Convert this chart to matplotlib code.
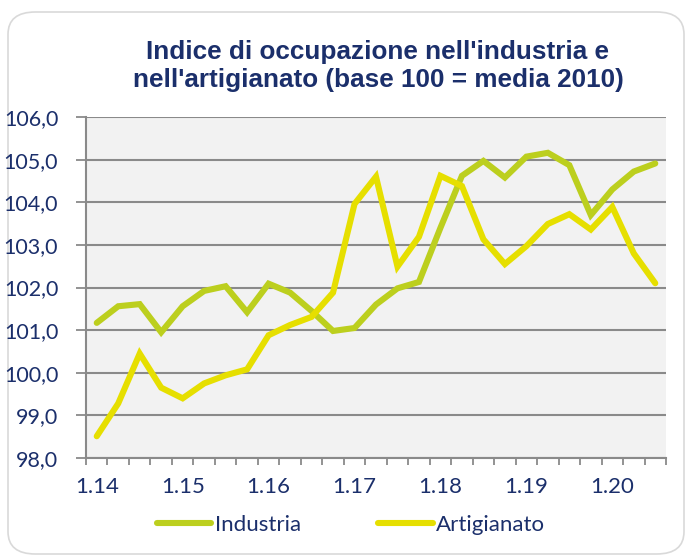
import matplotlib.pyplot as plt
from matplotlib.patches import FancyBboxPatch

# Quarterly index values (Q1 2014 .. Q3 2020), base 100 = 2010 average
industria = [101.17, 101.56, 101.61, 100.95, 101.56, 101.92, 102.03, 101.42, 102.09,
             101.88, 101.45, 100.98, 101.05, 101.60, 101.98, 102.13, 103.40, 104.62,
             104.97, 104.58, 105.07, 105.16, 104.87, 103.70, 104.30, 104.72, 104.91]
artigianato = [98.51, 99.28, 100.45, 99.65, 99.40, 99.75, 99.94, 100.08, 100.88,
               101.12, 101.31, 101.88, 103.96, 104.60, 102.49, 103.19, 104.62, 104.38,
               103.13, 102.55, 102.97, 103.49, 103.72, 103.36, 103.89, 102.80, 102.10]
tick_labels = ['1.14', '1.15', '1.16', '1.17', '1.18', '1.19', '1.20']
y_ticks = [98, 99, 100, 101, 102, 103, 104, 105, 106]

navy = '#1B2F6B'
green = '#BCCF1E'
yellow = '#E6DF00'
grid_gray = '#8A8A8A'

plt.rcParams['font.family'] = ['Lato', 'DejaVu Sans']

fig = plt.figure(figsize=(6.85, 5.58), dpi=100)

# rounded outer frame
frame = FancyBboxPatch((8 / 685, 4 / 558), 676 / 685, 542 / 558,
                       boxstyle='round,pad=0,rounding_size=0.04',
                       transform=fig.transFigure, facecolor='none',
                       edgecolor='#D9D9D9', linewidth=1.2, zorder=-1)
fig.patches.append(frame)

ax = fig.add_axes([86 / 685, 1 - 458 / 558, 580 / 685, 341 / 558])
ax.set_facecolor('#F2F2F2')

x = list(range(len(industria)))
ax.plot(x, industria, color=green, lw=4.4, solid_capstyle='round',
        solid_joinstyle='miter', label='Industria', zorder=3)
ax.plot(x, artigianato, color=yellow, lw=4.4, solid_capstyle='round',
        solid_joinstyle='miter', label='Artigianato', zorder=3)

ax.set_xlim(-0.5, len(x) - 0.5)
ax.set_ylim(98, 106)

ax.set_yticks(y_ticks)
ax.set_yticklabels([f'{v:.1f}'.replace('.', ',') for v in y_ticks])
ax.yaxis.grid(True, color=grid_gray, lw=1.5)
ax.set_axisbelow(True)

ax.set_xticks(range(0, len(x), 4))
ax.set_xticklabels(tick_labels)
ax.set_xticks([i - 0.5 for i in range(len(x) + 1)], minor=True)
ax.tick_params(axis='x', which='major', length=0, pad=14, labelsize=16, labelcolor=navy)
ax.tick_params(axis='x', which='minor', length=5, width=1.3, color=grid_gray)
ax.tick_params(axis='y', length=7, width=1.3, color=grid_gray, pad=13,
               labelsize=15.5, labelcolor=navy)

for side in ['top', 'right']:
    ax.spines[side].set_visible(False)
for side in ['left', 'bottom']:
    ax.spines[side].set_color(grid_gray)
    ax.spines[side].set_linewidth(1.5)

fig.text(378 / 685, 1 - 66 / 558,
         "Indice di occupazione nell'industria e\nnell'artigianato (base 100 = media 2010)",
         ha='center', va='center', fontsize=18.8, fontweight='bold', color=navy,
         family=['Liberation Sans', 'DejaVu Sans'], linespacing=1.2)

leg = fig.legend(loc='center', bbox_to_anchor=(351 / 685, 1 - 525 / 558), ncol=2,
                 frameon=False, fontsize=16, handlelength=2.45, handletextpad=0.15,
                 columnspacing=3.5)
for t in leg.get_texts():
    t.set_color(navy)

fig.savefig('out.png', dpi=100)
